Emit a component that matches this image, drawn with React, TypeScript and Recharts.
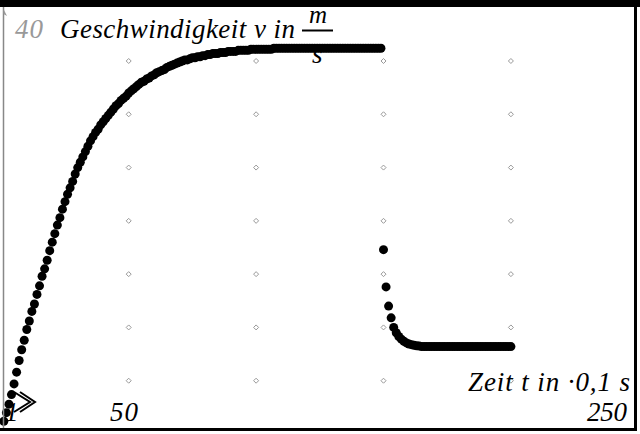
import React from 'react';
import { ScatterChart, Scatter, XAxis, YAxis } from 'recharts';

// speed v (m/s), one sample per time step (t in 0,1 s)
const RISE_START = 1;
const riseSpeed = [
  1.2, 2.0, 2.8, 3.7, 4.7, 5.8, 6.9, 7.9, 8.8, 9.8,
  10.6, 11.5, 12.2, 13.1, 13.9, 14.8, 15.5, 16.3, 17.2, 18.0,
  18.8, 19.6, 20.3, 21.1, 21.8, 22.5, 23.1, 23.7, 24.4, 25.0,
  25.5, 26.0, 26.5, 27.0, 27.5, 27.9, 28.3, 28.6, 29.0, 29.3,
  29.6, 29.9, 30.2, 30.5, 30.8, 31.0, 31.3, 31.5, 31.7, 32.0,
  32.2, 32.4, 32.6, 32.8, 33.0, 33.1, 33.3, 33.4, 33.6, 33.7,
  33.9, 34.0, 34.1, 34.2, 34.4, 34.5, 34.6, 34.7, 34.8, 34.9,
  35.0, 35.1, 35.1, 35.2, 35.3, 35.3, 35.4, 35.4, 35.5, 35.5,
  35.6, 35.6, 35.7, 35.7, 35.7, 35.8, 35.8, 35.8, 35.9, 35.9,
  35.9, 35.9, 36.0, 36.0, 36.0, 36.0, 36.0, 36.1, 36.1, 36.1,
  36.1, 36.1, 36.1, 36.1, 36.1, 36.1, 36.2, 36.2, 36.2, 36.2,
  36.2, 36.2, 36.2, 36.2, 36.2, 36.2, 36.2, 36.2, 36.2, 36.2,
  36.2, 36.2, 36.2, 36.2, 36.2, 36.2, 36.2, 36.2, 36.2, 36.2,
  36.2, 36.2, 36.2, 36.2, 36.2, 36.2, 36.2, 36.2, 36.2, 36.2,
  36.2, 36.2, 36.2, 36.2, 36.2, 36.2, 36.2, 36.2, 36.2,
];

const FALL_START = 150;
const fallSpeed = [
  17.3, 13.8, 12.0, 10.9, 10.0, 9.5, 9.15, 8.9, 8.7, 8.55,
  8.45, 8.38, 8.32, 8.28, 8.25, 8.2, 8.2, 8.2, 8.2, 8.2,
  8.2, 8.2, 8.2, 8.2, 8.2, 8.2, 8.2, 8.2, 8.2, 8.2,
  8.2, 8.2, 8.2, 8.2, 8.2, 8.2, 8.2, 8.2, 8.2, 8.2,
  8.2, 8.2, 8.2, 8.2, 8.2, 8.2, 8.2, 8.2, 8.2, 8.2,
  8.2,
];

// window settings and grid
const xRange = [1, 250];
const yRange = [0, 40];
const xGrid = [50, 100, 150, 200];
const yGrid = [5, 10, 15, 20, 25, 30, 35];

const points = [
  ...riseSpeed.map((v, i) => ({ t: RISE_START + i, v })),
  ...fallSpeed.map((v, i) => ({ t: FALL_START + i, v })),
];

const gridPoints = xGrid.flatMap((t) => yGrid.map((v) => ({ t, v })));

const Dot = (props: any) => <circle cx={props.cx} cy={props.cy} r={4.5} fill="#000" />;

const GridMark = (props: any) => {
  const { cx, cy } = props;
  return (
    <polygon
      points={`${cx},${cy - 2.5} ${cx + 2.5},${cy} ${cx},${cy + 2.5} ${cx - 2.5},${cy}`}
      fill="#fff"
      stroke="#999"
      strokeWidth={1}
    />
  );
};

const font = '"Liberation Serif", "Times New Roman", serif';

export default function App() {
  return (
    <div style={{ position: 'fixed', left: 0, top: 0, width: 640, height: 434, background: '#fff' }}>
      <style>{'body{margin:0}'}</style>
      <ScatterChart width={640} height={434} margin={{ top: 7.7, right: 1.7, bottom: 0, left: 3.85 }}>
        <XAxis type="number" dataKey="t" domain={xRange} hide />
        <YAxis type="number" dataKey="v" domain={yRange} hide />
        <Scatter data={gridPoints} shape={GridMark} isAnimationActive={false} />
        <Scatter data={points} shape={Dot} isAnimationActive={false} />
      </ScatterChart>
      <svg
        width={640}
        height={434}
        style={{ position: 'absolute', left: 0, top: 0, pointerEvents: 'none' }}
        fontFamily={font}
        fontStyle="italic"
      >
        {/* screen frame */}
        <rect x={0} y={0} width={640} height={7} fill="#000" />
        <rect x={634} y={7} width={3} height={424} fill="#000" />
        <rect x={0} y={428} width={637} height={3} fill="#000" />
        <line x1={3.5} y1={7} x2={3.5} y2={428} stroke="#888" strokeWidth={1.5} />
        <path d="M3.5 9 L7 16 L3.5 14 Z" fill="#999" />

        <text x={15} y={38} fontSize={27} fill="#999" textLength={28}>40</text>
        <text x={60} y={38} fontSize={27} fill="#000" textLength={235}>Geschwindigkeit v in</text>
        <text x={309} y={23} fontSize={25} fill="#000">m</text>
        <line x1={302} y1={30.5} x2={333} y2={30.5} stroke="#000" strokeWidth={2} />
        <text x={312} y={63} fontSize={27} fill="#000">s</text>

        <text x={468} y={391} fontSize={27} fill="#000" textLength={162}>Zeit t in ·0,1 s</text>
        <text x={587} y={421} fontSize={27} fill="#000" textLength={40}>250</text>
        <text x={110} y={421} fontSize={27} fill="#000" textLength={28}>50</text>
        <text x={5} y={421} fontSize={27} fill="#000">1</text>

        {/* pointer */}
        <path d="M14 392 L30 402 L14 412 M20 392 L35 402 L20 412" fill="none" stroke="#000" strokeWidth={2} />
      </svg>
    </div>
  );
}
